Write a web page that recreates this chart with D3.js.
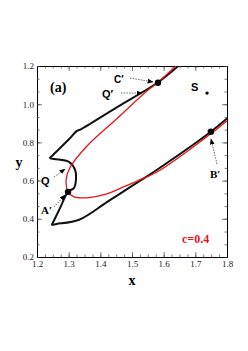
<!DOCTYPE html>
<html><head><meta charset="utf-8">
<script src="https://cdn.jsdelivr.net/npm/d3@7"></script>
<style>html,body{margin:0;padding:0;background:#fff;}</style>
</head><body>
<svg id="c" width="248" height="351"></svg>
<script>
// Data (x, y in plot units)
const blackCurve = [
  [1.646,1.200],[1.579,1.111],[1.453,0.985],[1.340,0.870],[1.326,0.860],[1.300,0.815],[1.250,0.733],[1.241,0.718],
  [1.255,0.713],[1.301,0.698],[1.320,0.657],[1.323,0.604],[1.317,0.562],[1.298,0.541],
  [1.273,0.457],[1.251,0.382],[1.247,0.369],[1.262,0.373],[1.333,0.395],[1.424,0.491],[1.516,0.589],
  [1.579,0.657],[1.749,0.856],[1.800,0.925]
];
const redCurve = [
  [1.639,1.200],[1.579,1.111],[1.547,1.069],[1.453,0.925],[1.358,0.781],
  [1.304,0.667],[1.292,0.604],[1.298,0.541],[1.317,0.515],[1.358,0.510],
  [1.412,0.526],[1.475,0.568],[1.516,0.598],[1.579,0.645],[1.749,0.845],[1.800,0.912]
];
const points = [
  {name:"A′", x:1.298, y:0.541},
  {name:"C′", x:1.582, y:1.112},
  {name:"B′", x:1.749, y:0.856},
  {name:"S",  x:1.737, y:1.058}
];
const xTicks = [1.2,1.3,1.4,1.5,1.6,1.7,1.8];
const yTicks = [0.2,0.4,0.6,0.8,1.0,1.2];
const xTickLabels = ["1.2","1.3","1.4","1.5","1.6","1.7","1.8"];
const yTickLabels = ["0.2","0.4","0.6","0.8","1.0","1.2"];

const SERIF = "'Liberation Serif','DejaVu Serif','Times New Roman',serif";
const SANS = "'Liberation Sans','DejaVu Sans',Arial,sans-serif";

const svg = d3.select("#c");
const L=37,R=227,T=66,B=257;
const x = d3.scaleLinear().domain([1.2,1.8]).range([L,R]);
const y = d3.scaleLinear().domain([0.2,1.2]).range([B,T]);

const defs = svg.append("defs");
defs.append("clipPath").attr("id","clip")
  .append("rect").attr("x",L).attr("y",T).attr("width",R-L).attr("height",B-T);
const mk = defs.append("marker").attr("id","arr")
  .attr("viewBox","0 0 10 10").attr("refX",9).attr("refY",5)
  .attr("markerWidth",6).attr("markerHeight",6).attr("orient","auto")
  .attr("markerUnits","userSpaceOnUse");
mk.append("path").attr("d","M0,1 L10,5 L0,9 Z").attr("fill","#000");

// Axes with inward ticks
const minorX = d3.range(1.2,1.8001,0.025);
const minorY = d3.range(0,16).map(i=>1.2-i*0.2/3).filter(v=>v>=0.199);
svg.append("g").attr("transform",`translate(0,${B})`)
  .call(d3.axisBottom(x).tickValues(xTicks).tickFormat((d,i)=>xTickLabels[i]).tickSizeInner(-5).tickSizeOuter(0).tickPadding(4));
svg.append("g").attr("transform",`translate(${L},0)`)
  .call(d3.axisLeft(y).tickValues(yTicks).tickFormat((d,i)=>yTickLabels[i]).tickSizeInner(-5).tickSizeOuter(0).tickPadding(3));
svg.append("g").attr("transform",`translate(0,${T})`)
  .call(d3.axisTop(x).tickValues(xTicks).tickFormat("").tickSizeInner(-5).tickSizeOuter(0));
svg.append("g").attr("transform",`translate(${R},0)`)
  .call(d3.axisRight(y).tickValues(yTicks).tickFormat("").tickSizeInner(-5).tickSizeOuter(0));
svg.append("g").attr("transform",`translate(0,${B})`).call(d3.axisBottom(x).tickValues(minorX).tickFormat("").tickSizeInner(-2.5).tickSizeOuter(0));
svg.append("g").attr("transform",`translate(0,${T})`).call(d3.axisTop(x).tickValues(minorX).tickFormat("").tickSizeInner(-2.5).tickSizeOuter(0));
svg.append("g").attr("transform",`translate(${L},0)`).call(d3.axisLeft(y).tickValues(minorY).tickFormat("").tickSizeInner(-2.5).tickSizeOuter(0));
svg.append("g").attr("transform",`translate(${R},0)`).call(d3.axisRight(y).tickValues(minorY).tickFormat("").tickSizeInner(-2.5).tickSizeOuter(0));
svg.selectAll(".domain").attr("stroke","#000").attr("stroke-width",1);
svg.selectAll(".tick line").attr("stroke","#444").attr("stroke-width",0.7);
svg.selectAll(".tick text").attr("font-family",SERIF).attr("font-size",9).attr("fill","#222");

// Curves
const line = d3.line().x(d=>x(d[0])).y(d=>y(d[1])).curve(d3.curveCatmullRom.alpha(0.5));
const g = svg.append("g").attr("clip-path","url(#clip)");
g.append("path").datum(blackCurve).attr("d",line).attr("fill","none").attr("stroke","#111").attr("stroke-width",2).attr("stroke-linejoin","round");
g.append("path").datum(redCurve).attr("d",line).attr("fill","none").attr("stroke","#e8141b").attr("stroke-width",1.3);

// Points
svg.selectAll("circle.pt").data(points).enter().append("circle")
  .attr("cx",d=>x(d.x)).attr("cy",d=>y(d.y)).attr("r",d=>d.name==="S"?1.7:3.2).attr("fill","#000");

// Labels
function txt(t,px,py,opt={}){
  return svg.append("text").attr("x",px).attr("y",py).text(t)
    .attr("font-family",opt.ff||SERIF).attr("font-weight","bold")
    .attr("font-size",opt.fs||11).attr("fill",opt.fill||"#000")
    .attr("text-anchor",opt.anchor||"start");
}
txt("(a)",50,92,{fs:14});
txt("C′",114,83,{ff:SANS,fs:10});
txt("Q′",102,98,{ff:SANS,fs:11});
txt("Q",41,185,{ff:SANS,fs:11});
txt("A′",41,214,{fs:11});
txt("B′",210,178,{fs:11});
txt("S",191,91,{ff:SANS,fs:11});
txt("c=0.4",182,243,{fs:12,fill:"#e8141b"});
txt("x",132,285,{fs:14,anchor:"middle"});
txt("y",19,167,{fs:14,anchor:"middle"});

// Arrows
const arrows = [
  [[130,78],[153,82]],
  [[121,93],[142,93]],
  [[54,177],[65,169]],
  [[54,207],[65,195]],
  [[217,164],[211,139]]
];
arrows.forEach(a=>{
  svg.append("line").attr("x1",a[0][0]).attr("y1",a[0][1]).attr("x2",a[1][0]).attr("y2",a[1][1])
    .attr("stroke","#000").attr("stroke-width",0.6).attr("stroke-dasharray","1.5,1.2")
    .attr("marker-end","url(#arr)");
});
</script>
</body></html>
